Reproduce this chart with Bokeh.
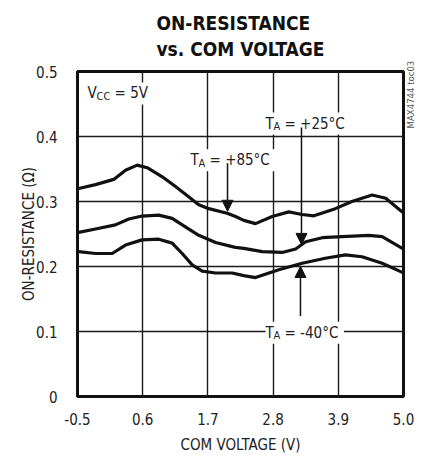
from bokeh.plotting import figure
from bokeh.models import Range1d, FixedTicker, Label, Arrow, NormalHead, Title, LinearAxis
from bokeh.embed import file_html
from bokeh.resources import INLINE
import math

FONT = "DejaVu Sans Condensed"

# ---- data ----
v_85 = [-0.48, -0.196, 0.112, 0.31, 0.507, 0.676, 0.93, 1.153, 1.38, 1.546, 1.715, 2.025, 2.166, 2.305,
        2.503, 2.785, 3.065, 3.29, 3.487, 3.85, 4.13, 4.47, 4.70, 4.98]
r_85 = [0.320, 0.326, 0.334, 0.348, 0.356, 0.352, 0.338, 0.323, 0.307, 0.295, 0.289, 0.282, 0.277, 0.271,
        0.266, 0.277, 0.284, 0.280, 0.278, 0.289, 0.300, 0.310, 0.305, 0.284]

v_25 = [-0.48, -0.196, 0.14, 0.366, 0.59, 0.87, 1.097, 1.32, 1.546, 1.83, 2.11, 2.166, 2.305, 2.616,
        2.953, 3.18, 3.35, 3.63, 3.966, 4.41, 4.64, 4.98]
r_25 = [0.2526, 0.2577, 0.264, 0.273, 0.2776, 0.279, 0.274, 0.261, 0.248, 0.237, 0.2305, 0.2295, 0.228, 0.223,
        0.2216, 0.227, 0.238, 0.2443, 0.246, 0.248, 0.246, 0.228]

v_m40 = [-0.48, -0.196, 0.085, 0.31, 0.59, 0.87, 1.097, 1.266, 1.435, 1.604, 1.83, 2.11, 2.305, 2.503,
         2.896, 3.29, 3.68, 4.02, 4.30, 4.64, 4.98]
r_m40 = [0.223, 0.220, 0.220, 0.233, 0.241, 0.242, 0.236, 0.220, 0.2025, 0.193, 0.190, 0.190, 0.186, 0.183,
         0.195, 0.205, 0.2127, 0.218, 0.215, 0.205, 0.191]

x_ticks = [-0.5, 0.6, 1.7, 2.8, 3.9, 5.0]
x_tick_labels = ["-0.5", "0.6", "1.7", "2.8", "3.9", "5.0"]
y_ticks = [0, 0.1, 0.2, 0.3, 0.4, 0.5]
y_tick_labels = ["0", "0.1", "0.2", "0.3", "0.4", "0.5"]

# ---- figure ----
p = figure(width=424, height=456, output_backend="svg", toolbar_location=None,
           x_range=Range1d(-0.5, 5.0), y_range=Range1d(0, 0.5),
           min_border_left=77, min_border_right=21, min_border_top=71, min_border_bottom=59)
p.background_fill_color = "white"
p.border_fill_color = "white"
p.outline_line_color = "#111111"
p.outline_line_width = 3

p.add_layout(Title(text="ON-RESISTANCE\nvs. COM VOLTAGE", align="center", vertical_align="top",
                   text_font=FONT, text_font_size="19px", text_font_style="bold", text_color="#111111",
                   text_line_height=1.18, standoff=19), "above")

for ax in (p.xaxis, p.yaxis):
    ax.axis_line_color = None
    ax.major_tick_line_color = None
    ax.minor_tick_line_color = None
    ax.major_label_text_font = FONT
    ax.major_label_text_font_size = "15px"
    ax.major_label_text_color = "#222222"
    ax.major_label_text_line_height = 1.0
    ax.axis_label_text_font = FONT
    ax.axis_label_text_font_size = "15px"
    ax.axis_label_text_font_style = "normal"
    ax.axis_label_text_color = "#222222"
    ax.axis_label_text_line_height = 1.0

p.xaxis.ticker = FixedTicker(ticks=x_ticks)
p.xaxis.major_label_overrides = {t: s for t, s in zip(x_ticks, x_tick_labels)}
p.yaxis.ticker = FixedTicker(ticks=y_ticks)
p.yaxis.major_label_overrides = {t: s for t, s in zip(y_ticks, y_tick_labels)}
p.xaxis.major_label_standoff = 10
p.yaxis.major_label_standoff = 14
p.xaxis.axis_label = "COM VOLTAGE (V)"
p.yaxis.axis_label = "ON-RESISTANCE (Ω)"
p.xaxis.axis_label_standoff = 8
p.yaxis.axis_label_standoff = -5

p.xgrid.ticker = FixedTicker(ticks=x_ticks[1:-1])
p.ygrid.ticker = FixedTicker(ticks=y_ticks[1:-1])
for g in (p.xgrid, p.ygrid):
    g.grid_line_color = "#1a1a1a"
    g.grid_line_width = 1.4
    g.grid_line_alpha = 1.0

# right-side figure code, drawn as the single label of a bare right axis
code_pos = 0.4125
ra = LinearAxis(axis_line_color=None, major_tick_line_color=None, minor_tick_line_color=None,
                ticker=FixedTicker(ticks=[code_pos]),
                major_label_overrides={code_pos: "MAX4744 toc03"},
                major_label_orientation=math.pi / 2,
                major_label_text_font=FONT, major_label_text_font_size="9.5px",
                major_label_text_color="#555555", major_label_standoff=1)
p.add_layout(ra, "right")

# curves
for vx, ry in ((v_85, r_85), (v_25, r_25), (v_m40, r_m40)):
    p.line(vx, ry, line_color="#111111", line_width=3.2, line_join="round", line_cap="round")


def add_text(x, y, full, parts, pad=2):
    p.add_layout(Label(x=x, y=y, text=full, text_font=FONT, text_font_size="15px", text_color="white",
                       text_baseline="alphabetic", background_fill_color="white", padding=pad))
    for txt, size, dy, dx in parts:
        p.add_layout(Label(x=x, y=y, x_offset=dx, y_offset=dy, text=txt, text_font=FONT,
                           text_font_size=size, text_color="#222222", text_baseline="alphabetic"))


add_text(-0.33, 0.4663, "VCC = 5V", [("V", "15px", 0, 0), ("CC", "11px", -3, 9), ("= 5V", "15px", 0, 27)])
add_text(2.672, 0.420, "TA = +25°C", [("T", "15px", 0, 0), ("A", "11px", -3, 8), ("= +25°C", "15px", 0, 19)])
add_text(1.407, 0.3635, "TA = +85°C", [("T", "15px", 0, 0), ("A", "11px", -3, 8), ("= +85°C", "15px", 0, 19)])
add_text(2.672, 0.098, "TA = -40°C", [("T", "15px", 0, 0), ("A", "11px", -3, 8), ("= -40°C", "15px", 0, 19)])

# arrows
for x0, y0, y1 in ((3.279, 0.414, 0.234), (2.031, 0.359, 0.285), (3.262, 0.124, 0.200)):
    p.add_layout(Arrow(end=NormalHead(size=11, fill_color="#111111", line_color="#111111", line_width=1),
                       x_start=x0, y_start=y0, x_end=x0, y_end=y1,
                       line_color="#111111", line_width=1.5))

open("out.html", "w").write(file_html(p, INLINE))
